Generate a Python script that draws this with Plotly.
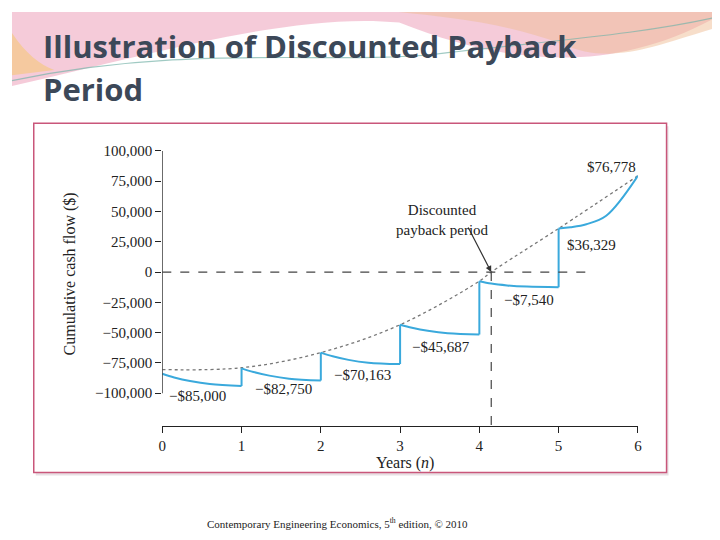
import plotly.graph_objects as go

# segment offsets within each year and the blue curve values
offsets = [0, 0.15, 0.35, 0.6, 1.0]
seg_values = [
    [-84000, -87000, -90000, -92500, -94000],
    [-79500, -82500, -85500, -88000, -89500],
    [-66500, -69500, -72500, -74800, -76000],
    [-43500, -46000, -48500, -50500, -51500],
    [-7500, -9500, -11000, -12000, -12500],
    [36000, 37000, 39500, 46500, 79500],
]
dotted_x = [0, 1, 2, 3, 4, 4.15, 5, 6]
dotted_y = [-80500, -79000, -66500, -43500, -7500, 0, 36000, 79500]
payback = 4.15

labels = ["\u2212$85,000", "\u2212$82,750", "\u2212$70,163", "\u2212$45,687", "\u2212$7,540", "$36,329", "$76,778"]
label_x = [0.44, 1.53, 2.53, 3.52, 4.63, 5.42, 5.67]
label_y = [-102500, -96700, -85000, -61500, -23000, 22000, 87000]

ytick_vals = [100000, 75000, 50000, 25000, 0, -25000, -50000, -75000, -100000]
ytick_text = ["100,000", "75,000", "50,000", "25,000", "0", "\u221225,000", "\u221250,000", "\u221275,000", "\u2212100,000"]

# the page puts the figure 8px in from the corner, so work in window pixels and shift
OFF = 8
W, H = 720 - OFF, 540 - OFF
blue = "#3aa9dc"
serif = "Liberation Serif"


def px(p):
    return (p - OFF) / W


def py(p):
    return 1 - (p - OFF) / H


fig = go.Figure()

# dotted discounted curve
fig.add_trace(go.Scatter(x=dotted_x, y=dotted_y, mode="lines", line=dict(color="#777", width=1.3, dash="dot", shape="spline"),
                         hoverinfo="skip"))

# blue step curve
for yr, vals in enumerate(seg_values):
    xs = [yr + o for o in offsets]
    fig.add_trace(go.Scatter(x=xs, y=vals, mode="lines", line=dict(color=blue, width=2, shape="spline")))
    if yr > 0:
        fig.add_trace(go.Scatter(x=[yr, yr], y=[seg_values[yr - 1][-1], vals[0]], mode="lines",
                                 line=dict(color=blue, width=2)))

# value labels
for t, x, y in zip(labels, label_x, label_y):
    fig.add_annotation(x=x, y=y, text=t, showarrow=False, font=dict(family=serif, size=15, color="#222"))

fig.add_annotation(x=payback, y=0, ax=3.85, ay=38000, xref="x", yref="y", axref="x", ayref="y",
                   text="", showarrow=True, arrowhead=2, arrowsize=1, arrowwidth=1.2, arrowcolor="#333")
fig.add_annotation(x=3.54, y=42600, text="Discounted<br>payback period", showarrow=False,
                   font=dict(family=serif, size=15, color="#222"))

# dashed reference lines and the y axis line
fig.add_shape(type="line", x0=0, x1=5.45, y0=0, y1=0, line=dict(color="#444", width=1.2, dash="dash"))
fig.add_shape(type="line", x0=payback, x1=payback, y0=0, y1=-127000, line=dict(color="#444", width=1.2, dash="dash"))
fig.add_shape(type="line", x0=0, x1=0, y0=-100000, y1=100000, line=dict(color="#222", width=1.3))

# slide decoration
fig.add_shape(type="path", xref="paper", yref="paper", layer="below",
              path="M 0.0 1 L 1 1 L 1 0.99 C 0.85 0.88, 0.7 0.9, 0.55 0.98 C 0.4 1.0, 0.2 0.92, 0.0 0.86 Z",
              fillcolor="rgba(232,140,170,0.45)", line=dict(width=0))
fig.add_shape(type="path", xref="paper", yref="paper", layer="below",
              path="M 0.0 0.96 C 0.02 0.92, 0.04 0.9, 0.06 0.89 L 0.0 0.88 Z",
              fillcolor="rgba(245,200,120,0.6)", line=dict(width=0))
fig.add_shape(type="path", xref="paper", yref="paper", layer="below",
              path="M 0.55 1 L 1 1 L 1 0.97 C 0.9 0.93, 0.85 0.9, 0.78 0.94 C 0.7 0.98, 0.62 0.99, 0.55 1 Z",
              fillcolor="rgba(240,190,150,0.5)", line=dict(width=0))
fig.add_shape(type="path", xref="paper", yref="paper", layer="below",
              path="M 0.0 0.87 C 0.25 0.94, 0.45 0.9, 0.6 0.92 C 0.8 0.95, 0.9 0.96, 1 0.99",
              line=dict(color="rgba(120,180,170,0.7)", width=1.2))
# chart frame
fig.add_shape(type="rect", xref="paper", yref="paper", layer="below",
              x0=px(32), x1=px(672), y0=py(475), y1=py(123), fillcolor="#e8e0e4", line=dict(width=0))
fig.add_shape(type="rect", xref="paper", yref="paper", layer="below",
              x0=px(30), x1=px(670), y0=py(472), y1=py(120), fillcolor="white", line=dict(color="#c9567a", width=1.5))

fig.add_annotation(xref="paper", yref="paper", x=px(37), y=py(42), xanchor="left", yanchor="middle", showarrow=False,
                   text="<b>Illustration of Discounted Payback</b>", font=dict(family="Open Sans", size=31, color="#3c4858"))
fig.add_annotation(xref="paper", yref="paper", x=px(37), y=py(86), xanchor="left", yanchor="middle", showarrow=False,
                   text="<b>Period</b>", font=dict(family="Open Sans", size=31, color="#3c4858"))
fig.add_annotation(xref="paper", yref="paper", x=px(337), y=py(523), yanchor="middle", showarrow=False,
                   text="Contemporary Engineering Economics, 5<sup>th</sup> edition, \u00a9 2010",
                   font=dict(family=serif, size=11, color="#222"))
fig.add_annotation(xref="paper", yref="paper", x=px(56), y=py(272), yanchor="middle", showarrow=False, textangle=-90,
                   text="Cumulative cash flow ($)", font=dict(family=serif, size=16, color="#222"))
fig.add_annotation(xref="paper", yref="paper", x=px(405), y=py(462), yanchor="middle", showarrow=False,
                   text="Years (<i>n</i>)", font=dict(family=serif, size=16, color="#222"))

fig.update_layout(
    width=W, height=H, margin=dict(l=0, r=0, t=0, b=0),
    paper_bgcolor="white", plot_bgcolor="rgba(0,0,0,0)", showlegend=False,
    xaxis=dict(domain=[px(160), px(641)], range=[0, 6], tickvals=[0, 1, 2, 3, 4, 5, 6], showgrid=False, zeroline=False,
               showline=True, linecolor="#222", linewidth=1.3, ticks="outside", ticklen=6, tickcolor="#222",
               tickfont=dict(family=serif, size=15, color="#222")),
    yaxis=dict(domain=[py(425), py(144)], range=[-127000, 103300], tickvals=ytick_vals, ticktext=ytick_text,
               showgrid=False, zeroline=False, showline=False, ticks="outside", ticklen=6, tickcolor="#222",
               tickfont=dict(family=serif, size=15, color="#222")),
)

fig.write_html("out.html")
